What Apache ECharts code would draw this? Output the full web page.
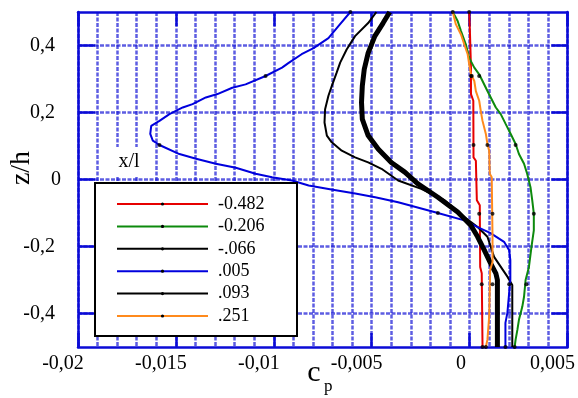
<!DOCTYPE html>
<html>
<head>
<meta charset="utf-8">
<script src="https://cdn.jsdelivr.net/npm/echarts@6/dist/echarts.min.js"></script>
<style>
  html, body { margin: 0; padding: 0; background: #fff; }
  #main { width: 578px; height: 398px; }
</style>
</head>
<body>
<div id="main"></div>
<script>
// x/l values (legend)
const seriesNames = ['-0.482', '-0.206', '-.066', '.005', '.093', '.251']

// profiles: [cp, z/h]
const red482 = [
  [-0.00002, 0.5], [0.00002, 0.434], [0.00007, 0.334], [0.00007, 0.255], [0.00019, 0.235],
  [0.00020, 0.066], [0.00032, 0.056], [0.00037, -0.062], [0.00052, -0.077], [0.00054, -0.261],
  [0.00062, -0.280], [0.00066, -0.5]
]
const green206 = [
  [-0.00086, 0.5], [-0.00061, 0.473], [-0.00044, 0.443], [-0.00019, 0.403], [-0.00002, 0.363],
  [0.00024, 0.334], [0.00049, 0.314], [0.00066, 0.294], [0.00091, 0.264], [0.00108, 0.245],
  [0.00134, 0.215], [0.00159, 0.195], [0.00184, 0.166], [0.00210, 0.136], [0.00235, 0.106],
  [0.00252, 0.076], [0.00278, 0.047], [0.00294, 0.017], [0.00311, -0.023], [0.00320, -0.062],
  [0.00328, -0.102], [0.00328, -0.152], [0.00316, -0.201], [0.00303, -0.261], [0.00286, -0.300],
  [0.00278, -0.350], [0.00269, -0.380], [0.00252, -0.419], [0.00244, -0.449], [0.00235, -0.478],
  [0.00230, -0.5]
]
const black066 = [
  [-0.00476, 0.5], [-0.00518, 0.467], [-0.00585, 0.428], [-0.00628, 0.388], [-0.00661, 0.349],
  [-0.00679, 0.319], [-0.00704, 0.279], [-0.00721, 0.250], [-0.00738, 0.210], [-0.00741, 0.170],
  [-0.00729, 0.131], [-0.00704, 0.111], [-0.00653, 0.086], [-0.00585, 0.066], [-0.00518, 0.051],
  [-0.00450, 0.032], [-0.00365, -0.003], [-0.00247, -0.028], [-0.00128, -0.062], [-0.00027, -0.112],
  [0.00041, -0.142], [0.00091, -0.171], [0.00125, -0.231], [0.00193, -0.290], [0.00218, -0.315],
  [0.00218, -0.360], [0.00218, -0.5]
]
const blue005 = [
  [-0.00609, 0.5], [-0.00670, 0.458], [-0.00721, 0.422], [-0.00797, 0.392], [-0.00858, 0.374],
  [-0.00924, 0.348], [-0.00958, 0.334], [-0.01042, 0.309], [-0.01144, 0.284], [-0.01212, 0.274],
  [-0.01288, 0.255], [-0.01347, 0.245], [-0.01415, 0.225], [-0.01465, 0.215], [-0.01533, 0.195],
  [-0.01584, 0.175], [-0.01626, 0.160], [-0.01631, 0.136], [-0.01618, 0.116], [-0.01584, 0.103],
  [-0.01482, 0.076], [-0.01397, 0.062], [-0.01296, 0.047], [-0.01194, 0.035], [-0.01093, 0.017],
  [-0.01009, 0.007], [-0.00907, -0.003], [-0.00822, -0.018], [-0.00706, -0.030], [-0.00584, -0.042],
  [-0.00482, -0.053], [-0.00365, -0.068], [-0.00162, -0.100], [-0.00027, -0.122], [0.00041, -0.142],
  [0.00107, -0.160], [0.00176, -0.186], [0.00202, -0.211], [0.00208, -0.241], [0.00208, -0.300],
  [0.00202, -0.339], [0.00193, -0.398], [0.00183, -0.428], [0.00183, -0.5]
]
const black093 = [
  [-0.00408, 0.5], [-0.00442, 0.467], [-0.00484, 0.428], [-0.00518, 0.378], [-0.00538, 0.329],
  [-0.00548, 0.279], [-0.00552, 0.230], [-0.00548, 0.180], [-0.00518, 0.131], [-0.00467, 0.091],
  [-0.00400, 0.051], [-0.00331, 0.022], [-0.00264, -0.013], [-0.00162, -0.053], [-0.00061, -0.097],
  [0.00007, -0.137], [0.00041, -0.171], [0.00075, -0.211], [0.00108, -0.251], [0.00134, -0.280],
  [0.00142, -0.300], [0.00142, -0.5]
]
const orange251 = [
  [-0.00086, 0.5], [-0.00070, 0.463], [-0.00044, 0.433], [-0.00027, 0.403], [-0.00010, 0.374],
  [-0.00002, 0.344], [0.00007, 0.314], [0.00024, 0.294], [0.00032, 0.264], [0.00049, 0.235],
  [0.00057, 0.205], [0.00066, 0.175], [0.00083, 0.136], [0.00091, 0.106], [0.00100, 0.086],
  [0.00103, 0.017], [0.00113, 0.007], [0.00117, -0.171], [0.00117, -0.246], [0.00105, -0.270],
  [0.00100, -0.409], [0.00091, -0.478], [0.00083, -0.5]
]

// black dots sitting on the coloured profiles
const dotsRed = [[-0.00002, 0.5], [0.00007, 0.309], [0.00020, 0.103], [0.00049, -0.102], [0.00062, -0.313], [0.00066, -0.5]]
const dotsGreen = [[-0.00086, 0.5], [0.00049, 0.309], [0.00235, 0.103], [0.00328, -0.102], [0.00290, -0.313], [0.00230, -0.5]]
const dotsOrange = [[0.00011, 0.309], [0.00091, 0.103], [0.00117, -0.102], [0.00117, -0.313], [0.00083, -0.5]]
const dotsBlue = [[-0.00609, 0.5], [-0.01042, 0.309], [-0.01584, 0.103], [-0.00162, -0.100], [0.00202, -0.313], [0.00183, -0.5]]

const yTicks = [-0.4, -0.2, 0, 0.2, 0.4]

const font = 'Liberation Serif'
const axisBlue = '#0b0bd6'
const gridStyle = { color: 'rgba(30,30,215,0.72)', width: 2.5, type: [4, 1.5] }

const profiles = [
  { data: red482, color: '#e60000', width: 2 },
  { data: green206, color: '#0d8a0d', width: 2 },
  { data: black066, color: '#000', width: 2 },
  { data: blue005, color: '#0000dd', width: 2 },
  { data: black093, color: '#000', width: 5 },
  { data: orange251, color: '#ff8a1c', width: 2 },
]

const numFmt = v => {
  const s = String(+v.toFixed(4)).replace('.', ',')
  return v === 0 ? '{z|0}' : '{a|' + s + '}'
}

const labelTxt = { fontFamily: font, fontSize: 20, color: '#000' }
const borderLine = { show: true, onZero: false, lineStyle: { color: axisBlue, width: 2.5 } }

const chart = echarts.init(document.getElementById('main'), null, { renderer: 'canvas' })
chart.setOption({
  animation: false,
  grid: { left: 78, right: 7, top: 12, bottom: 51 },
  xAxis: [
    {
      type: 'value', min: -0.02, max: 0.005, interval: 0.005, position: 'bottom',
      axisLine: borderLine,
      axisTick: { show: true, inside: true, length: 14, lineStyle: { color: axisBlue, width: 2.5 } },
      axisLabel: {
        margin: 7, formatter: numFmt, ...labelTxt,
        rich: {
          a: { ...labelTxt, padding: [0, 30, 0, 0] },
          z: { ...labelTxt, padding: [0, 17, 0, 0] },
        },
      },
      splitLine: { show: true, lineStyle: gridStyle },
      minorTick: { show: false, splitNumber: 5 },
      minorSplitLine: { show: true, lineStyle: gridStyle },
    },
    {
      type: 'value', min: -0.02, max: 0.005, interval: 0.005, position: 'top',
      axisLine: borderLine,
      axisTick: { show: true, inside: true, length: 14, lineStyle: { color: axisBlue, width: 2.5 } },
      axisLabel: { show: false },
      splitLine: { show: false },
    },
  ],
  yAxis: [
    {
      type: 'value', min: -0.5, max: 0.5, position: 'left',
      axisLine: borderLine,
      axisTick: { show: true, inside: true, length: 17, customValues: yTicks, lineStyle: { color: axisBlue, width: 2.5 } },
      axisLabel: {
        margin: 17, customValues: yTicks, formatter: numFmt, ...labelTxt,
        rich: {
          a: { ...labelTxt, padding: [0, 6, 0, 0] },
          z: { ...labelTxt },
        },
      },
      splitLine: { show: true, lineStyle: gridStyle },
    },
    {
      type: 'value', min: -0.5, max: 0.5, position: 'right',
      axisLine: borderLine,
      axisTick: { show: true, inside: true, length: 16, customValues: yTicks, lineStyle: { color: axisBlue, width: 2.5 } },
      axisLabel: { show: false, customValues: yTicks },
      splitLine: { show: false },
    },
  ],
  legend: {
    data: seriesNames,
    orient: 'vertical',
    left: 116,
    top: 194,
    padding: 0,
    itemWidth: 91,
    itemHeight: 4,
    itemGap: 2.4,
    selectedMode: false,
    itemStyle: { color: '#000', borderWidth: 0 },
    textStyle: { fontFamily: font, fontSize: 18, color: '#000', lineHeight: 20, padding: [0, 0, 0, 5] },
    z: 6,
  },
  graphic: [
    {
      type: 'rect', z: 5,
      shape: { x: 95, y: 183, width: 202, height: 153 },
      style: { fill: '#fff', stroke: '#000', lineWidth: 2 },
    },
    {
      type: 'text', z: 5, x: 129, y: 162,
      style: {
        text: 'x/l', font: '20px "Liberation Serif"', fill: '#000', align: 'center', verticalAlign: 'middle',
        backgroundColor: '#fff', padding: [6, 8, 4, 8],
      },
    },
    {
      type: 'text', x: 22, y: 168, rotation: Math.PI / 2,
      style: { text: 'z/h', font: '28px "Liberation Serif"', fill: '#000', align: 'center', verticalAlign: 'middle' },
    },
    {
      type: 'text', x: 314, y: 373,
      style: { text: 'c', font: '30px "Liberation Serif"', fill: '#000', align: 'center', verticalAlign: 'middle' },
    },
    {
      type: 'text', x: 324, y: 387,
      style: { text: 'p', font: '17px "Liberation Serif"', fill: '#000', align: 'left', verticalAlign: 'middle' },
    },
  ],
  series: [
    ...profiles.map((p, i) => ({
      name: seriesNames[i],
      type: 'line',
      data: p.data,
      symbol: 'none',
      lineStyle: { color: p.color, width: p.width },
      itemStyle: { color: '#000' },
      z: 2,
    })),
    ...[dotsRed, dotsGreen, dotsOrange, dotsBlue].map(d => ({
      type: 'scatter',
      data: d,
      symbol: 'circle',
      symbolSize: 4,
      itemStyle: { color: '#000' },
      z: 3,
    })),
  ],
})
</script>
</body>
</html>
